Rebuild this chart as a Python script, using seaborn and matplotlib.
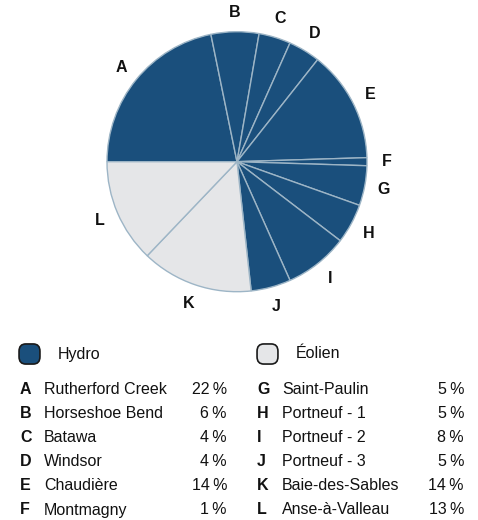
import matplotlib
matplotlib.use("Agg")
import matplotlib.pyplot as plt
from matplotlib.patches import FancyBboxPatch
import seaborn as sns

# Production share per site
letters = ["A", "B", "C", "D", "E", "F", "G", "H", "I", "J", "K", "L"]
sites = ["Rutherford Creek", "Horseshoe Bend", "Batawa", "Windsor", "Chaudière",
         "Montmagny", "Saint-Paulin", "Portneuf - 1", "Portneuf - 2",
         "Portneuf - 3", "Baie-des-Sables", "Anse-à-Valleau"]
shares = [22, 6, 4, 4, 14, 1, 5, 5, 8, 5, 14, 13]
sources = ["Hydro"] * 10 + ["Éolien"] * 2
source_names = ["Hydro", "Éolien"]

sns.set_theme(style="white")
plt.rcParams["font.family"] = ["Liberation Sans", "DejaVu Sans"]

palette = dict(zip(source_names, ["#1a4f7c", "#e5e6e8"]))
edge_col = "#9db5c6"
FS = 11.5

W, H = 478, 520
fig = plt.figure(figsize=(W / 100, H / 100), dpi=100)

cx, cy, r = 237, 161.7, 130
ax = fig.add_axes([(cx - r) / W, (H - cy - r) / H, 2 * r / W, 2 * r / H])
wedges, texts = ax.pie(
    shares,
    labels=letters,
    colors=[palette[s] for s in sources],
    startangle=180,
    counterclock=False,
    labeldistance=1.15,
    wedgeprops=dict(edgecolor=edge_col, linewidth=1.0),
    textprops=dict(fontsize=FS, fontweight="bold", color="#111111"),
)
for t in texts:
    t.set_horizontalalignment("center")
    t.set_verticalalignment("center")
    t.set_clip_on(False)
ax.set_xlim(-1, 1)
ax.set_ylim(-1, 1)
ax.set_aspect("equal")
ax.axis("off")

# Source legend with rounded swatches
leg_y = 354
for name, x0 in zip(source_names, [19, 257]):
    box = FancyBboxPatch(((x0 + 1) / W, (H - leg_y - 9) / H), 19 / W, 18 / H,
                         boxstyle="round,pad=0.002,rounding_size=0.014",
                         transform=fig.transFigure, facecolor=palette[name],
                         edgecolor="#1a1a1a", linewidth=1.2)
    fig.add_artist(box)
    fig.text((x0 + 39) / W, 1 - leg_y / H, name, fontsize=FS,
             va="center", ha="left", color="#111111")

# Site table in two columns
row0, step = 389, 24.2
cols = [(20, 44, 227), (257, 282, 464)]
for i, (let, site, val) in enumerate(zip(letters, sites, shares)):
    lx, nx, px = cols[i // 6]
    y = 1 - (row0 + (i % 6) * step) / H
    fig.text(lx / W, y, let, fontsize=FS, fontweight="bold",
             va="center", ha="left", color="#111111")
    fig.text(nx / W, y, site, fontsize=FS, va="center", ha="left",
             color="#111111")
    fig.text(px / W, y, f"{val}\u2009%", fontsize=FS, va="center",
             ha="right", color="#111111")

fig.savefig("out.png", dpi=100)
